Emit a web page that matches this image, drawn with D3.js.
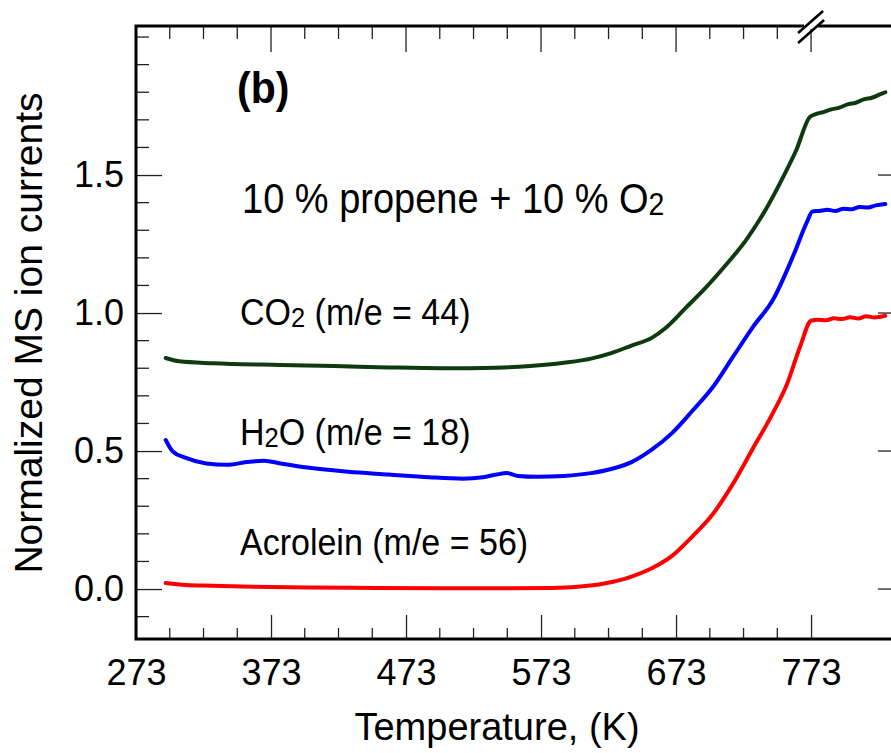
<!DOCTYPE html>
<html>
<head>
<meta charset="utf-8">
<script src="https://cdn.jsdelivr.net/npm/d3@7"></script>
<style>
  html, body { margin: 0; padding: 0; background: #fff; }
  svg { display: block; }
  text { font-family: "Liberation Sans", Arial, Helvetica, sans-serif; fill: #000; }
</style>
</head>
<body>
<svg id="chart" width="891" height="753"></svg>
<script>
// Temperature (K) and normalized MS ion currents for each species
const co2T = [295, 305, 330, 380, 420, 460, 500, 540, 565, 590, 610, 625, 640, 655, 665, 680, 695, 710, 725, 740, 752, 762, 772, 776, 782, 788, 794, 800, 806, 812, 818, 824, 828];
const co2V = [0.837, 0.825, 0.818, 0.812, 0.808, 0.803, 0.800, 0.802, 0.808, 0.820, 0.835, 0.855, 0.882, 0.910, 0.945, 1.018, 1.092, 1.175, 1.265, 1.380, 1.490, 1.590, 1.710, 1.720, 1.728, 1.738, 1.744, 1.756, 1.762, 1.774, 1.780, 1.792, 1.800];

const h2oT = [295, 300, 310, 325, 340, 355, 368, 380, 400, 430, 460, 490, 515, 530, 540, 548, 556, 570, 590, 610, 625, 640, 655, 670, 685, 700, 715, 730, 745, 760, 770, 774, 779, 785, 791, 797, 803, 809, 815, 821, 828];
const h2oV = [0.540, 0.500, 0.475, 0.455, 0.450, 0.460, 0.465, 0.455, 0.440, 0.425, 0.415, 0.405, 0.400, 0.405, 0.415, 0.420, 0.410, 0.407, 0.410, 0.420, 0.435, 0.460, 0.505, 0.565, 0.645, 0.730, 0.840, 0.950, 1.050, 1.210, 1.330, 1.368, 1.370, 1.374, 1.370, 1.378, 1.376, 1.384, 1.382, 1.390, 1.395];

const acrT = [295, 310, 330, 360, 400, 450, 500, 550, 580, 600, 620, 640, 655, 670, 685, 700, 715, 730, 745, 755, 765, 773, 778, 784, 790, 796, 802, 808, 814, 820, 828];
const acrV = [0.022, 0.015, 0.012, 0.008, 0.006, 0.004, 0.003, 0.003, 0.004, 0.008, 0.020, 0.045, 0.075, 0.120, 0.190, 0.270, 0.380, 0.510, 0.640, 0.740, 0.880, 0.972, 0.976, 0.974, 0.981, 0.978, 0.985, 0.980, 0.988, 0.984, 0.990];

const seriesNames = ["CO2", "H2O", "Acrolein"];
const seriesColors = ["#0d3b0d", "#0000ff", "#ff0000"];

// Axis ticks
const xMajorTicks = [273, 373, 473, 573, 673, 773];
const xMinorTicks = [298, 323, 348, 398, 423, 448, 498, 523, 548, 598, 623, 648, 698, 723, 748];
const yMajorTicks = [0.0, 0.5, 1.0, 1.5];
const yMinorTicks = [-0.1, 0.1, 0.2, 0.3, 0.4, 0.6, 0.7, 0.8, 0.9, 1.1, 1.2, 1.3, 1.4, 1.6, 1.7, 1.8, 1.9, 2.0];

const svg = d3.select("#chart");
const pLeft = 136, pRight = 903, pTop = 26, pBottom = 639;

const x = d3.scaleLinear().domain([273, 841.1]).range([pLeft, pRight]);
const y = d3.scaleLinear().domain([-0.181, 2.04]).range([pBottom, pTop]);

const tickColor = "#222";

// Bottom axis
const xAxisB = d3.axisBottom(x).tickValues(xMajorTicks).tickSizeInner(-24).tickSizeOuter(0).tickFormat(d3.format("d"));
const gxb = svg.append("g").attr("transform", `translate(0,${pBottom})`).call(xAxisB);
gxb.select(".domain").remove();
gxb.selectAll(".tick line").attr("stroke", tickColor).attr("stroke-width", 1.3);
gxb.selectAll(".tick text").attr("font-size", 36).attr("dy", 0).attr("y", 46)
  .attr("font-family", "Liberation Sans, Arial, sans-serif");
gxb.selectAll("line.minor").data(xMinorTicks).enter().append("line")
  .attr("class", "minor")
  .attr("x1", d => x(d)).attr("x2", d => x(d)).attr("y1", 0).attr("y2", -11)
  .attr("stroke", tickColor).attr("stroke-width", 1.3);

// Top axis (ticks only, pointing inward)
const gxt = svg.append("g").attr("transform", `translate(0,${pTop})`);
gxt.selectAll("line.maj").data(xMajorTicks.slice(1)).enter().append("line")
  .attr("class", "maj")
  .attr("x1", d => x(d)).attr("x2", d => x(d)).attr("y1", 0).attr("y2", 26)
  .attr("stroke", tickColor).attr("stroke-width", 1.3);
gxt.selectAll("line.min").data(xMinorTicks).enter().append("line")
  .attr("class", "min")
  .attr("x1", d => x(d)).attr("x2", d => x(d)).attr("y1", 0).attr("y2", 13)
  .attr("stroke", tickColor).attr("stroke-width", 1.3);

// Left axis
const yAxisL = d3.axisLeft(y).tickValues(yMajorTicks).tickSizeInner(-26).tickSizeOuter(0).tickFormat(d3.format(".1f"));
const gyl = svg.append("g").attr("transform", `translate(${pLeft},0)`).call(yAxisL);
gyl.select(".domain").remove();
gyl.selectAll(".tick line").attr("stroke", tickColor).attr("stroke-width", 1.3);
gyl.selectAll(".tick text").attr("font-size", 36).attr("x", -12)
  .attr("font-family", "Liberation Sans, Arial, sans-serif");
gyl.selectAll("line.min").data(yMinorTicks).enter().append("line")
  .attr("class", "min")
  .attr("x1", 0).attr("x2", 13).attr("y1", d => y(d)).attr("y2", d => y(d))
  .attr("stroke", tickColor).attr("stroke-width", 1.3);

// Right axis (major ticks only)
const gyr = svg.append("g").attr("transform", `translate(${pRight},0)`);
gyr.selectAll("line").data(yMajorTicks).enter().append("line")
  .attr("x1", 0).attr("x2", -25).attr("y1", d => y(d)).attr("y2", d => y(d))
  .attr("stroke", tickColor).attr("stroke-width", 1.3);

// Frame
svg.append("path")
  .attr("d", `M${pLeft},${pTop}H${pRight}V${pBottom}H${pLeft}Z`)
  .attr("fill", "none").attr("stroke", "#000").attr("stroke-width", 3);

// Data curves
const series = [
  { t: co2T, v: co2V },
  { t: h2oT, v: h2oV },
  { t: acrT, v: acrV }
];
const line = d3.line().x(d => x(d[0])).y(d => y(d[1])).curve(d3.curveMonotoneX);
svg.append("g").selectAll("path").data(series).enter().append("path")
  .attr("d", s => line(s.t.map((t, i) => [t, s.v[i]])))
  .attr("fill", "none")
  .attr("stroke", (s, i) => seriesColors[i])
  .attr("stroke-width", 4)
  .attr("stroke-linejoin", "round")
  .attr("stroke-linecap", "round");

// Axis break on the top frame at 773 K
const bx = x(773);
const brk = svg.append("g");
brk.append("rect").attr("x", bx - 7).attr("y", pTop - 3).attr("width", 14).attr("height", 6).attr("fill", "#fff");
brk.append("line").attr("x1", bx - 13).attr("y1", pTop + 7).attr("x2", bx + 12).attr("y2", pTop - 15)
  .attr("stroke", "#000").attr("stroke-width", 2.6);
brk.append("line").attr("x1", bx - 13).attr("y1", pTop + 17).attr("x2", bx + 13).attr("y2", pTop - 6)
  .attr("stroke", "#000").attr("stroke-width", 2.6);

// Axis titles
svg.append("text")
  .attr("x", 497).attr("y", 740)
  .attr("text-anchor", "middle").attr("font-size", 38)
  .text("Temperature, (K)");
svg.append("text")
  .attr("transform", "translate(42,333) rotate(-90)")
  .attr("text-anchor", "middle").attr("font-size", 39)
  .text("Normalized MS ion currents");

// Panel label and annotations (slightly tall lettering)
svg.append("text").attr("transform", "translate(237,103) scale(1,1.08)")
  .attr("font-size", 41).attr("font-weight", "bold").text("(b)");

function subLabel(xp, yp, size, pre, sub, post) {
  const t = svg.append("text")
    .attr("transform", `translate(${xp},${yp}) scale(1,1.1)`)
    .attr("font-size", size);
  t.append("tspan").text(pre);
  t.append("tspan").attr("font-size", size * 0.75).attr("dy", 2).text(sub);
  t.append("tspan").attr("dy", -2).text(post);
  return t;
}
subLabel(242, 213, 38, "10 % propene + 10 % O", "2", "");
subLabel(240, 325, 34, "CO", "2", " (m/e = 44)");
subLabel(240, 445, 34, "H", "2", "O (m/e = 18)");
subLabel(240, 555, 34, "Acrolein (m/e = 56)", "", "");
</script>
</body>
</html>
